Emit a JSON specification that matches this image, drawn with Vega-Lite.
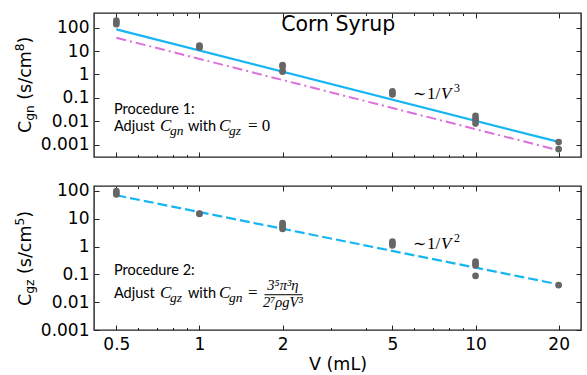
{
  "$schema": "https://vega.github.io/schema/vega-lite/v6.json",
  "padding": {"left": 13, "top": 11, "right": 2, "bottom": 0},
  "bounds": "flush",
  "spacing": 29,
  "datasets": {
    "pointsGn": [
      {"V": 0.5, "C": 200}, {"V": 0.5, "C": 170}, {"V": 0.5, "C": 140},
      {"V": 1, "C": 17}, {"V": 1, "C": 15}, {"V": 1, "C": 14},
      {"V": 2, "C": 2.5}, {"V": 2, "C": 2.2}, {"V": 2, "C": 1.4}, {"V": 2, "C": 1.3},
      {"V": 5, "C": 0.19}, {"V": 5, "C": 0.16}, {"V": 5, "C": 0.14},
      {"V": 10, "C": 0.017}, {"V": 10, "C": 0.013}, {"V": 10, "C": 0.011}, {"V": 10, "C": 0.008},
      {"V": 20, "C": 0.0013}, {"V": 20, "C": 0.00065}
    ],
    "pointsGz": [
      {"V": 0.5, "C": 100}, {"V": 0.5, "C": 85}, {"V": 0.5, "C": 75},
      {"V": 1, "C": 15.5}, {"V": 1, "C": 15},
      {"V": 2, "C": 7}, {"V": 2, "C": 6}, {"V": 2, "C": 5}, {"V": 2, "C": 4.3},
      {"V": 5, "C": 1.5}, {"V": 5, "C": 1.3}, {"V": 5, "C": 1.1},
      {"V": 10, "C": 0.29}, {"V": 10, "C": 0.24}, {"V": 10, "C": 0.21}, {"V": 10, "C": 0.088},
      {"V": 20, "C": 0.041}
    ],
    "fitGn": [{"V": 0.5, "C": 84.5}, {"V": 20, "C": 0.00132}],
    "fitGnAlt": [{"V": 0.5, "C": 37}, {"V": 20, "C": 0.00058}],
    "fitGz": [{"V": 0.5, "C": 70}, {"V": 20, "C": 0.0437}],
    "one": [{}]
  },
  "config": {
    "font": "DejaVu Sans",
    "view": {"stroke": "#222", "strokeWidth": 1.4},
    "axis": {
      "grid": false, "domain": false, "tickColor": "#222", "tickWidth": 1,
      "labelFont": "DejaVu Sans", "labelFontSize": 17, "labelColor": "#000",
      "titleFont": "DejaVu Sans", "titleFontSize": 17.5, "titleFontWeight": "normal", "titleColor": "#000",
      "labelOverlap": false, "labelFlush": false
    },
    "text": {"baseline": "alphabetic", "align": "left", "color": "#000"}
  },
  "vconcat": [
    {
      "width": 487, "height": 144,
      "resolve": {"axis": {"x": "independent", "y": "independent"}},
      "layer": [
        {
          "data": {"name": "fitGn"},
          "mark": {"type": "line", "color": "#15b6f2", "strokeWidth": 2.2},
          "encoding": {
            "x": {"field": "V", "type": "quantitative", "scale": {"type": "log", "domain": [0.415, 24.1], "nice": false},
              "axis": {"orient": "top", "values": [0.5,0.6,0.7,0.8,0.9,1,2,3,4,5,6,7,8,9,10,20], "labels": false, "title": null,
                "tickSize": {"condition": {"test": "indexof([0.5,1,2,5,10,20], datum.value) >= 0", "value": -5}, "value": -2.5}}},
            "y": {"field": "C", "type": "quantitative", "scale": {"type": "log", "domain": [0.0003, 420], "nice": false},
              "axis": {"orient": "right", "values": [0.001,0.01,0.1,1,10,100], "labels": false, "title": null, "tickSize": -5}}
          }
        },
        {
          "data": {"name": "fitGnAlt"},
          "mark": {"type": "line", "color": "#dc6fdc", "strokeWidth": 2, "strokeDash": [10, 4, 2, 4]},
          "encoding": {
            "x": {"field": "V", "type": "quantitative", "scale": {"type": "log", "domain": [0.415, 24.1], "nice": false}, "axis": null},
            "y": {"field": "C", "type": "quantitative", "scale": {"type": "log", "domain": [0.0003, 420], "nice": false}, "axis": null}
          }
        },
        {
          "data": {"name": "pointsGn"},
          "mark": {"type": "circle", "color": "#666666", "opacity": 1, "size": 44},
          "encoding": {
            "x": {"field": "V", "type": "quantitative", "scale": {"type": "log", "domain": [0.415, 24.1], "nice": false},
              "axis": {"orient": "bottom", "values": [0.5,0.6,0.7,0.8,0.9,1,2,3,4,5,6,7,8,9,10,20], "labels": false, "title": null,
                "tickSize": {"condition": {"test": "indexof([0.5,1,2,5,10,20], datum.value) >= 0", "value": -5}, "value": -2.5}}},
            "y": {"field": "C", "type": "quantitative", "scale": {"type": "log", "domain": [0.0003, 420], "nice": false},
              "axis": {"orient": "left", "values": [0.001,0.01,0.1,1,10,100], "format": "~g", "tickSize": -5, "labelPadding": 10, "title": null}}
          }
        },
        {
          "data": {"name": "one"},
          "mark": {"type": "text", "text": "Corn Syrup", "align": "center", "font": "DejaVu Sans", "fontSize": 20.5},
          "encoding": {
            "x": {"datum": 3.18, "type": "quantitative", "scale": {"type": "log", "domain": [0.415, 24.1], "nice": false}, "axis": null},
            "y": {"datum": 71.6, "type": "quantitative", "scale": {"type": "log", "domain": [0.0003, 420], "nice": false}, "axis": null}
          }
        },
        {
          "data": {"name": "one"},
          "layer": [
            {"mark": {"type": "text", "text": "∼", "font": "DejaVu Serif", "fontSize": 16, "dx": 0}},
            {"mark": {"type": "text", "text": "1/", "font": "Liberation Serif", "fontSize": 17, "dx": 14}},
            {"mark": {"type": "text", "text": "V", "font": "Liberation Serif", "fontStyle": "italic", "fontSize": 17, "dx": 28}},
            {"mark": {"type": "text", "text": "3", "font": "Liberation Serif", "fontSize": 12, "dx": 41, "dy": -7}}
          ],
          "encoding": {
            "x": {"datum": 5.94, "type": "quantitative", "scale": {"type": "log", "domain": [0.415, 24.1], "nice": false}, "axis": null},
            "y": {"datum": 0.0897, "type": "quantitative", "scale": {"type": "log", "domain": [0.0003, 420], "nice": false}, "axis": null}
          }
        },
        {
          "data": {"name": "one"},
          "mark": {"type": "text", "text": "Procedure 1:", "font": "Lato", "fontSize": 14.5},
          "encoding": {
            "x": {"datum": 0.49, "type": "quantitative", "scale": {"type": "log", "domain": [0.415, 24.1], "nice": false}, "axis": null},
            "y": {"datum": 0.0214, "type": "quantitative", "scale": {"type": "log", "domain": [0.0003, 420], "nice": false}, "axis": null}
          }
        },
        {
          "data": {"name": "one"},
          "layer": [
            {"mark": {"type": "text", "text": "Adjust", "font": "Lato", "fontSize": 14.5, "dx": 0}},
            {"mark": {"type": "text", "text": "C", "font": "Liberation Serif", "fontStyle": "italic", "fontSize": 17, "dx": 46}},
            {"mark": {"type": "text", "text": "gn", "font": "Liberation Serif", "fontStyle": "italic", "fontSize": 13.5, "dx": 56, "dy": 3.5}},
            {"mark": {"type": "text", "text": "with", "font": "Lato", "fontSize": 14.5, "dx": 74}},
            {"mark": {"type": "text", "text": "C", "font": "Liberation Serif", "fontStyle": "italic", "fontSize": 17, "dx": 105}},
            {"mark": {"type": "text", "text": "gz", "font": "Liberation Serif", "fontStyle": "italic", "fontSize": 13.5, "dx": 115, "dy": 3.5}},
            {"mark": {"type": "text", "text": "= 0", "font": "Liberation Serif", "fontSize": 17, "dx": 134}}
          ],
          "encoding": {
            "x": {"datum": 0.49, "type": "quantitative", "scale": {"type": "log", "domain": [0.415, 24.1], "nice": false}, "axis": null},
            "y": {"datum": 0.00375, "type": "quantitative", "scale": {"type": "log", "domain": [0.0003, 420], "nice": false}, "axis": null}
          }
        },
        {
          "data": {"name": "one"},
          "layer": [
            {"mark": {"type": "text", "text": "C", "font": "DejaVu Sans", "fontSize": 17.5, "angle": 270, "dx": 0}},
            {"mark": {"type": "text", "text": "gn", "font": "DejaVu Sans", "fontSize": 12.25, "angle": 270, "dx": 12.2, "dy": 3.5}},
            {"mark": {"type": "text", "text": "(s/cm", "font": "DejaVu Sans", "fontSize": 17.5, "angle": 270, "dx": 33.3}},
            {"mark": {"type": "text", "text": "8", "font": "DejaVu Sans", "fontSize": 12.25, "angle": 270, "dx": 81.8, "dy": -7}},
            {"mark": {"type": "text", "text": ")", "font": "DejaVu Sans", "fontSize": 17.5, "angle": 270, "dx": 89.6}}
          ],
          "encoding": {
            "x": {"datum": 0.2453, "type": "quantitative", "scale": {"type": "log", "domain": [0.415, 24.1], "nice": false}, "axis": null},
            "y": {"datum": 0.00317, "type": "quantitative", "scale": {"type": "log", "domain": [0.0003, 420], "nice": false}, "axis": null}
          }
        }
      ]
    },
    {
      "width": 487, "height": 144,
      "resolve": {"axis": {"x": "independent", "y": "independent"}},
      "layer": [
        {
          "data": {"name": "fitGz"},
          "mark": {"type": "line", "color": "#15b6f2", "strokeWidth": 2.2, "strokeDash": [10, 4]},
          "encoding": {
            "x": {"field": "V", "type": "quantitative", "scale": {"type": "log", "domain": [0.415, 24.1], "nice": false},
              "axis": {"orient": "top", "values": [0.5,0.6,0.7,0.8,0.9,1,2,3,4,5,6,7,8,9,10,20], "labels": false, "title": null,
                "tickSize": {"condition": {"test": "indexof([0.5,1,2,5,10,20], datum.value) >= 0", "value": -5}, "value": -2.5}}},
            "y": {"field": "C", "type": "quantitative", "scale": {"type": "log", "domain": [0.001, 151], "nice": false},
              "axis": {"orient": "right", "values": [0.001,0.01,0.1,1,10,100], "labels": false, "title": null, "tickSize": -5}}
          }
        },
        {
          "data": {"name": "pointsGz"},
          "mark": {"type": "circle", "color": "#666666", "opacity": 1, "size": 44},
          "encoding": {
            "x": {"field": "V", "type": "quantitative", "scale": {"type": "log", "domain": [0.415, 24.1], "nice": false},
              "axis": {"orient": "bottom", "values": [0.5,0.6,0.7,0.8,0.9,1,2,3,4,5,6,7,8,9,10,20], "format": "~g",
                "labelExpr": "indexof([0.5,1,2,5,10,20], datum.value) >= 0 ? datum.label : ''",
                "labelPadding": 11, "title": "V (mL)", "titlePadding": 1,
                "tickSize": {"condition": {"test": "indexof([0.5,1,2,5,10,20], datum.value) >= 0", "value": -5}, "value": -2.5}}},
            "y": {"field": "C", "type": "quantitative", "scale": {"type": "log", "domain": [0.001, 151], "nice": false},
              "axis": {"orient": "left", "values": [0.001,0.01,0.1,1,10,100], "format": "~g", "tickSize": -5, "labelPadding": 10, "title": null}}
          }
        },
        {
          "data": {"name": "one"},
          "layer": [
            {"mark": {"type": "text", "text": "∼", "font": "DejaVu Serif", "fontSize": 16, "dx": 0}},
            {"mark": {"type": "text", "text": "1/", "font": "Liberation Serif", "fontSize": 17, "dx": 14}},
            {"mark": {"type": "text", "text": "V", "font": "Liberation Serif", "fontStyle": "italic", "fontSize": 17, "dx": 28}},
            {"mark": {"type": "text", "text": "2", "font": "Liberation Serif", "fontSize": 12, "dx": 41, "dy": -7}}
          ],
          "encoding": {
            "x": {"datum": 5.94, "type": "quantitative", "scale": {"type": "log", "domain": [0.415, 24.1], "nice": false}, "axis": null},
            "y": {"datum": 0.818, "type": "quantitative", "scale": {"type": "log", "domain": [0.001, 151], "nice": false}, "axis": null}
          }
        },
        {
          "data": {"name": "one"},
          "mark": {"type": "text", "text": "Procedure 2:", "font": "Lato", "fontSize": 14.5},
          "encoding": {
            "x": {"datum": 0.49, "type": "quantitative", "scale": {"type": "log", "domain": [0.415, 24.1], "nice": false}, "axis": null},
            "y": {"datum": 0.0927, "type": "quantitative", "scale": {"type": "log", "domain": [0.001, 151], "nice": false}, "axis": null}
          }
        },
        {
          "data": {"name": "one"},
          "layer": [
            {"mark": {"type": "text", "text": "Adjust", "font": "Lato", "fontSize": 14.5, "dx": 0}},
            {"mark": {"type": "text", "text": "C", "font": "Liberation Serif", "fontStyle": "italic", "fontSize": 17, "dx": 46}},
            {"mark": {"type": "text", "text": "gz", "font": "Liberation Serif", "fontStyle": "italic", "fontSize": 13.5, "dx": 56, "dy": 3.5}},
            {"mark": {"type": "text", "text": "with", "font": "Lato", "fontSize": 14.5, "dx": 74}},
            {"mark": {"type": "text", "text": "C", "font": "Liberation Serif", "fontStyle": "italic", "fontSize": 17, "dx": 105}},
            {"mark": {"type": "text", "text": "gn", "font": "Liberation Serif", "fontStyle": "italic", "fontSize": 13.5, "dx": 115, "dy": 3.5}},
            {"mark": {"type": "text", "text": "=", "font": "Liberation Serif", "fontSize": 17, "dx": 134}}
          ],
          "encoding": {
            "x": {"datum": 0.49, "type": "quantitative", "scale": {"type": "log", "domain": [0.415, 24.1], "nice": false}, "axis": null},
            "y": {"datum": 0.0141, "type": "quantitative", "scale": {"type": "log", "domain": [0.001, 151], "nice": false}, "axis": null}
          }
        },
        {
          "data": {"name": "one"},
          "mark": {"type": "text", "text": "3⁵π³η", "font": "Liberation Serif", "fontStyle": "italic", "fontSize": 14.5, "align": "center", "dx": 169},
          "encoding": {
            "x": {"datum": 0.49, "type": "quantitative", "scale": {"type": "log", "domain": [0.415, 24.1], "nice": false}, "axis": null},
            "y": {"datum": 0.0274, "type": "quantitative", "scale": {"type": "log", "domain": [0.001, 151], "nice": false}, "axis": null}
          }
        },
        {
          "data": {"name": "one"},
          "mark": {"type": "text", "text": "2⁷ρgV³", "font": "Liberation Serif", "fontStyle": "italic", "fontSize": 14.5, "align": "center", "dx": 169},
          "encoding": {
            "x": {"datum": 0.49, "type": "quantitative", "scale": {"type": "log", "domain": [0.415, 24.1], "nice": false}, "axis": null},
            "y": {"datum": 0.0067, "type": "quantitative", "scale": {"type": "log", "domain": [0.001, 151], "nice": false}, "axis": null}
          }
        },
        {
          "data": {"name": "one"},
          "mark": {"type": "rule", "color": "#000", "strokeWidth": 1},
          "encoding": {
            "x": {"datum": 1.72, "type": "quantitative", "scale": {"type": "log", "domain": [0.415, 24.1], "nice": false}, "axis": null},
            "x2": {"datum": 2.36},
            "y": {"datum": 0.01857, "type": "quantitative", "scale": {"type": "log", "domain": [0.001, 151], "nice": false}, "axis": null}
          }
        },
        {
          "data": {"name": "one"},
          "layer": [
            {"mark": {"type": "text", "text": "C", "font": "DejaVu Sans", "fontSize": 17.5, "angle": 270, "dx": 0}},
            {"mark": {"type": "text", "text": "gz", "font": "DejaVu Sans", "fontSize": 12.25, "angle": 270, "dx": 12.2, "dy": 3.5}},
            {"mark": {"type": "text", "text": "(s/cm", "font": "DejaVu Sans", "fontSize": 17.5, "angle": 270, "dx": 32}},
            {"mark": {"type": "text", "text": "5", "font": "DejaVu Sans", "fontSize": 12.25, "angle": 270, "dx": 80.5, "dy": -7}},
            {"mark": {"type": "text", "text": ")", "font": "DejaVu Sans", "fontSize": 17.5, "angle": 270, "dx": 88.3}}
          ],
          "encoding": {
            "x": {"datum": 0.2453, "type": "quantitative", "scale": {"type": "log", "domain": [0.415, 24.1], "nice": false}, "axis": null},
            "y": {"datum": 0.00728, "type": "quantitative", "scale": {"type": "log", "domain": [0.001, 151], "nice": false}, "axis": null}
          }
        }
      ]
    }
  ]
}
